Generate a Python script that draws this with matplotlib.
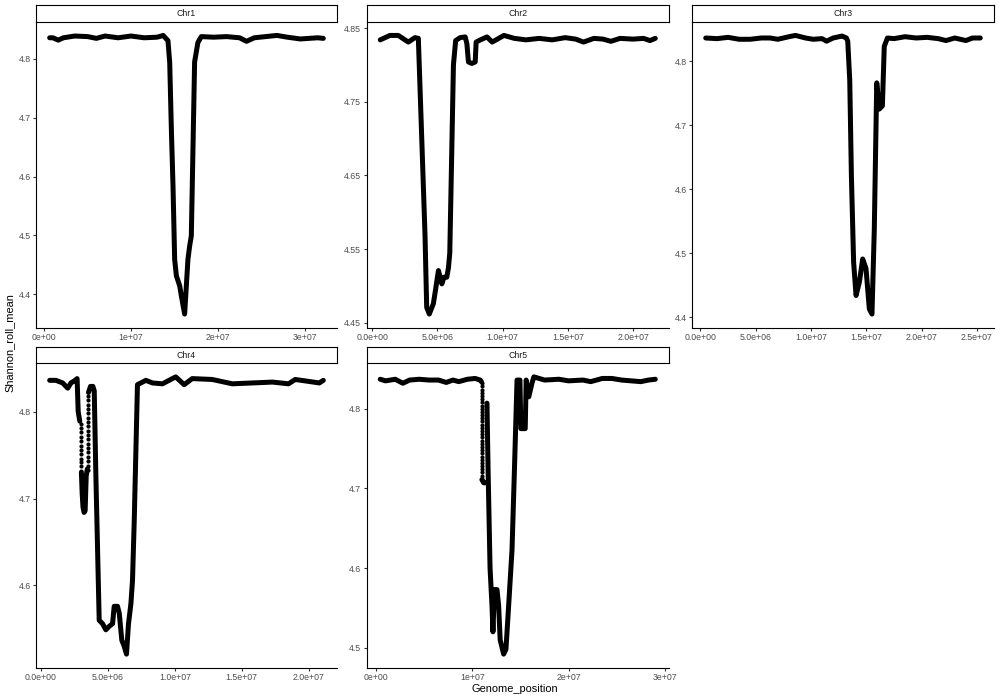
import numpy as np
import matplotlib
matplotlib.use('Agg')
import matplotlib.pyplot as plt

plt.rcParams['font.family'] = ['Liberation Sans', 'DejaVu Sans']

# positions in Mb, nan breaks the line where the values jump
chr1_pos = [0.62, 1.0, 1.6, 2.2, 3.5, 5.0, 6.0, 7.0, 8.5, 10.0, 11.5, 13.0, 13.7, 14.25, 14.45, 14.64,
            14.83, 15.02, 15.22, 15.60, 15.79, 16.17, 16.55, 16.75, 16.94, 17.32, 17.70, 18.09, 19.5,
            21.0, 22.5, 23.3, 24.2, 25.5, 26.8, 28.0, 29.5, 30.5, 31.5, 32.15]
chr1_val = [4.836, 4.836, 4.832, 4.836, 4.839, 4.838, 4.835, 4.839, 4.836, 4.839, 4.836, 4.837, 4.840,
            4.831, 4.794, 4.681, 4.584, 4.459, 4.431, 4.414, 4.397, 4.366, 4.459, 4.482, 4.499, 4.795,
            4.828, 4.838, 4.837, 4.838, 4.836, 4.830, 4.836, 4.838, 4.840, 4.837, 4.834, 4.835, 4.836, 4.835]

chr2_pos = [0.62, 1.36, 2.0, 2.77, 3.28, 3.54, 3.79, 4.05, 4.18, 4.38, 4.69, 4.85, 5.08, 5.34, 5.51,
            5.72, 5.85, 5.95, 6.23, 6.40, 6.74, 7.13, 7.26, 7.38, 7.64, 7.90, 7.97, 8.3, 8.8, 9.2, 10.1,
            10.9, 11.8, 12.8, 13.8, 14.8, 15.6, 16.2, 17.0, 17.7, 18.3, 19.0, 20.0, 20.8, 21.3, 21.7]
chr2_val = [4.834, 4.840, 4.840, 4.831, 4.837, 4.836, 4.706, 4.570, 4.471, 4.462, 4.476, 4.494, 4.521,
            4.503, 4.512, 4.512, 4.525, 4.545, 4.800, 4.833, 4.837, 4.838, 4.829, 4.804, 4.802, 4.804,
            4.831, 4.834, 4.838, 4.831, 4.840, 4.836, 4.834, 4.836, 4.834, 4.837, 4.835, 4.831, 4.836,
            4.835, 4.832, 4.836, 4.835, 4.836, 4.833, 4.836]

chr3_pos = [0.48, 1.5, 2.5, 3.5, 4.5, 5.5, 6.3, 7.0, 8.0, 8.6, 9.5, 10.2, 11.0, 11.4, 12.0, 12.8, 13.2,
            13.32, 13.5, 13.65, 13.85, 14.07, 14.37, 14.67, 14.97, 15.27, 15.51, 15.72, 15.94, 16.17,
            16.45, 16.62, 16.91, 17.5, 18.5, 19.5, 20.5, 21.5, 22.2, 23.0, 24.0, 24.6, 25.3]
chr3_val = [4.836, 4.835, 4.837, 4.834, 4.834, 4.836, 4.836, 4.834, 4.838, 4.840, 4.836, 4.834, 4.835,
            4.831, 4.836, 4.839, 4.836, 4.831, 4.770, 4.620, 4.486, 4.434, 4.455, 4.491, 4.476, 4.413,
            4.405, 4.538, 4.766, 4.725, 4.730, 4.823, 4.836, 4.835, 4.838, 4.836, 4.837, 4.835, 4.832,
            4.836, 4.832, 4.836, 4.836]

chr4_pos = [0.65, 1.12, 1.62, 2.0, 2.24, 2.55, 2.70, 2.78, 2.90, np.nan, 3.02, 3.08, 3.14, 3.22, 3.30,
            3.38, 3.46, np.nan, 3.55, 3.70, 3.88, 3.98, 4.10, 4.35, 4.60, 4.85, 5.10, 5.35, 5.47, 5.72,
            5.85, 6.04, 6.22, 6.39, 6.54, 6.72, 6.84, 6.97, 7.21, 7.84, 8.33, 9.08, 10.07, 10.7, 11.3,
            12.8, 14.3, 15.8, 17.3, 18.5, 19.0, 20.8, 21.1]
chr4_val = [4.836, 4.836, 4.833, 4.827, 4.833, 4.836, 4.838, 4.800, 4.789, np.nan, 4.730, 4.705, 4.690,
            4.684, 4.686, 4.726, 4.734, np.nan, 4.822, 4.829, 4.829, 4.824, 4.728, 4.560, 4.556, 4.549,
            4.553, 4.556, 4.576, 4.576, 4.568, 4.537, 4.530, 4.521, 4.556, 4.579, 4.606, 4.675, 4.831,
            4.836, 4.833, 4.832, 4.840, 4.831, 4.838, 4.837, 4.832, 4.833, 4.834, 4.832, 4.837, 4.833, 4.836]

chr5_pos = [0.45, 1.0, 2.0, 2.8, 3.5, 4.5, 5.5, 6.5, 7.3, 8.0, 8.6, 9.5, 10.3, 10.83, 10.95, np.nan,
            11.0, 11.2, 11.35, np.nan, 11.53, 11.65, 11.85, 12.05, 12.15, 12.3, 12.57, 12.74, 12.9, 13.26,
            13.5, 13.78, 14.13, 14.37, 14.65, 14.95, 15.05, 15.5, 15.6, 15.87, 16.2, 16.4, 17.5, 19.0,
            20.0, 21.5, 22.3, 23.5, 24.5, 25.5, 26.5, 27.5, 28.3, 29.0]
chr5_val = [4.837, 4.835, 4.837, 4.832, 4.836, 4.837, 4.836, 4.836, 4.833, 4.836, 4.834, 4.837, 4.838,
            4.836, 4.834, np.nan, 4.711, 4.707, 4.707, np.nan, 4.807, 4.720, 4.600, 4.553, 4.520, 4.573,
            4.573, 4.553, 4.510, 4.492, 4.498, 4.553, 4.623, 4.719, 4.836, 4.836, 4.775, 4.775, 4.836,
            4.815, 4.832, 4.840, 4.836, 4.837, 4.835, 4.836, 4.834, 4.838, 4.838, 4.836, 4.835, 4.834,
            4.836, 4.837]

# columns of separate points (same position, stepping values)
chr4_col1_pos = 3.00
chr4_col1_val = [4.786, 4.781, 4.776, 4.771, 4.766, 4.761, 4.756, 4.751, 4.746, 4.742, 4.737, 4.732]
chr4_col2_pos = 3.52
chr4_col2_val = [4.733, 4.738, 4.743, 4.748, 4.753, 4.758, 4.763, 4.768, 4.773, 4.778, 4.783, 4.788,
                 4.793, 4.798, 4.803, 4.808, 4.813, 4.818]
chr5_col_pos = 11.0
chr5_col_val = [4.832, 4.828, 4.824, 4.820, 4.816, 4.812, 4.808, 4.804, 4.800, 4.796, 4.792, 4.788,
                4.784, 4.780, 4.776, 4.772, 4.768, 4.764, 4.760, 4.756, 4.752, 4.748, 4.744, 4.740,
                4.736, 4.732, 4.728, 4.724, 4.720, 4.716, 4.712]

chroms = ['Chr1', 'Chr2', 'Chr3', 'Chr4', 'Chr5']

x_ticks_1e7 = [0, 1e7, 2e7, 3e7]
x_labels_1e7 = ['0e+00', '1e+07', '2e+07', '3e+07']
x_ticks_5e6 = [0, 5e6, 1e7, 1.5e7, 2e7, 2.5e7]
x_labels_5e6 = ['0.0e+00', '5.0e+06', '1.0e+07', '1.5e+07', '2.0e+07', '2.5e+07']

y_ticks = {
    'Chr1': [4.4, 4.5, 4.6, 4.7, 4.8],
    'Chr2': [4.45, 4.55, 4.65, 4.75, 4.85],
    'Chr3': [4.4, 4.5, 4.6, 4.7, 4.8],
    'Chr4': [4.6, 4.7, 4.8],
    'Chr5': [4.5, 4.6, 4.7, 4.8],
}

lines = {
    'Chr1': (chr1_pos, chr1_val),
    'Chr2': (chr2_pos, chr2_val),
    'Chr3': (chr3_pos, chr3_val),
    'Chr4': (chr4_pos, chr4_val),
    'Chr5': (chr5_pos, chr5_val),
}
dots = {
    'Chr4': [(chr4_col1_pos, chr4_col1_val), (chr4_col2_pos, chr4_col2_val)],
    'Chr5': [(chr5_col_pos, chr5_col_val)],
}
x_fmt = {'Chr1': '1e7', 'Chr2': '5e6', 'Chr3': '5e6', 'Chr4': '5e6', 'Chr5': '1e7'}

# panel boxes in pixels: left, right, strip top, strip bottom, axis bottom
W, H = 1000, 700
cols = [(36, 337), (366.5, 669), (692, 994)]
rows = [(5, 21.5, 328), (347, 363, 668)]

fig = plt.figure(figsize=(10, 7), dpi=100)
fig.patch.set_facecolor('white')

for i, name in enumerate(chroms):
    left, right = cols[i % 3]
    s_top, s_bot, a_bot = rows[i // 3]
    ax = fig.add_axes([left / W, 1 - a_bot / H, (right - left) / W, (a_bot - s_bot) / H])
    sx = fig.add_axes([left / W, 1 - s_bot / H, (right - left) / W, (s_bot - s_top) / H])

    pos, val = lines[name]
    ax.plot(np.array(pos) * 1e6, val, '-', color='black', lw=3.6,
            solid_capstyle='round', solid_joinstyle='round')
    for cpos, cval in dots.get(name, []):
        ax.plot(np.full(len(cval), cpos * 1e6), cval, 'o', color='black', ms=3.0, mec='none')

    ax.margins(x=0.05, y=0.05)
    ax.autoscale_view()
    if x_fmt[name] == '1e7':
        ax.set_xticks(x_ticks_1e7, x_labels_1e7)
    else:
        xl = ax.get_xlim()
        keep = [k for k, t in enumerate(x_ticks_5e6) if xl[0] <= t <= xl[1]]
        ax.set_xticks([x_ticks_5e6[k] for k in keep], [x_labels_5e6[k] for k in keep])
    yt = y_ticks[name]
    ax.set_yticks(yt, [f'{t:g}' for t in yt])

    for side in ['top', 'right']:
        ax.spines[side].set_visible(False)
    for side in ['left', 'bottom']:
        ax.spines[side].set_linewidth(0.8)
        ax.spines[side].set_color('black')
    ax.tick_params(length=2.2, width=0.8, color='#333333', labelsize=6.3,
                   labelcolor='#4D4D4D', pad=1.6)

    sx.set_xticks([])
    sx.set_yticks([])
    for sp in sx.spines.values():
        sp.set_linewidth(0.8)
        sp.set_color('black')
    sx.text(0.5, 0.5, name, ha='center', va='center', fontsize=6.3, color='#1A1A1A',
            transform=sx.transAxes)

fig.text(515 / W, 1 - 689 / H, 'Genome_position', ha='center', va='center', fontsize=7.9)
fig.text(10 / W, 1 - 343 / H, 'Shannon_roll_mean', ha='center', va='center', rotation=90,
         fontsize=7.9)

fig.savefig('out.png', dpi=100, facecolor='white')
